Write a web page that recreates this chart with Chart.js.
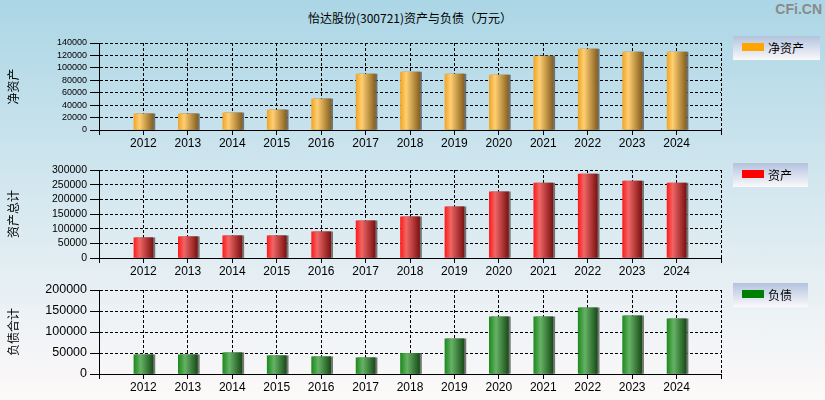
<!DOCTYPE html>
<html>
<head>
<meta charset="utf-8">
<script src="https://cdn.jsdelivr.net/npm/chart.js@4/dist/chart.umd.min.js"></script>
<style>
  html, body { margin: 0; padding: 0; }
  body {
    width: 825px; height: 400px; position: relative; overflow: hidden;
    background: linear-gradient(to bottom, #abd6e5 0%, #d6e8f0 50%, #fdf9f9 100%);
  }
  canvas { position: absolute; left: 0; top: 0; }
  .title {
    position: absolute; left: 0; top: 9px; width: 820px; text-align: center;
    font: 12px "Noto Sans CJK SC", sans-serif; color: #000;
  }
  .brand {
    position: absolute; right: 3px; top: 1px;
    font: bold 14px "Liberation Sans", Arial, sans-serif; color: #8a8a8a;
  }
  .legend {
    position: absolute; left: 733px; height: 24px;
    background: linear-gradient(to bottom, #b3c3de, #fbf9fb);
    font: 12px "Noto Sans CJK SC", sans-serif; color: #000;
  }
  .legend i { position: absolute; left: 9px; top: 7px; width: 22px; height: 8px; }
  .legend span { position: absolute; left: 35px; top: 3px; line-height: 17px; }
</style>
</head>
<body>
<div class="title">怡达股份(300721)资产与负债（万元）</div>
<div class="brand">CFi.CN</div>
<canvas id="c1" width="825" height="400"></canvas>
<canvas id="c2" width="825" height="400"></canvas>
<canvas id="c3" width="825" height="400"></canvas>
<div class="legend" style="top:36px;width:87px"><i style="background:#ffa500"></i><span>净资产</span></div>
<div class="legend" style="top:163px;width:75px"><i style="background:#ff0000"></i><span>资产</span></div>
<div class="legend" style="top:283px;width:75px"><i style="background:#008000"></i><span>负债</span></div>
<script>
const years = [2012, 2013, 2014, 2015, 2016, 2017, 2018, 2019, 2020, 2021, 2022, 2023, 2024]
const netAssets = [26000, 26000, 27500, 32200, 50000, 90100, 93300, 90100, 88500, 119100, 130300, 125500, 125500]
const totalAssets = [69000, 72500, 75800, 75800, 89400, 126800, 140400, 174300, 225300, 255800, 286400, 262600, 255800]
const totalDebt = [45800, 45800, 50600, 43500, 41100, 38700, 49000, 83800, 136000, 136000, 157300, 138300, 131200]

const orangeStops = [[0, '#f0a628'], [0.3, '#ffcf72'], [1, '#8a6220']]
const redStops = [[0, '#ff1c1c'], [0.3, '#f06666'], [1, '#7e1212']]
const greenStops = [[0, '#1e8a1e'], [0.35, '#66b266'], [1, '#184e18']]

function barGradient(stops) {
    return (c) => {
        const chart = c.chart
        const xs = chart.scales && chart.scales.x
        if (!xs || !c.raw) return stops[0][1]
        const px = xs.getPixelForValue(c.raw.x)
        if (!isFinite(px)) return stops[0][1]
        const g = chart.ctx.createLinearGradient(px - 9.5, 0, px + 9.5, 0)
        stops.forEach(s => g.addColorStop(s[0], s[1]))
        return g
    }
}

const shadow = {
    id: 'shadow',
    beforeDatasetsDraw(chart) {
        chart.ctx.save()
        chart.ctx.shadowColor = 'rgba(95,95,95,0.85)'
        chart.ctx.shadowOffsetX = 2
        chart.ctx.shadowOffsetY = 0
        chart.ctx.shadowBlur = 0
    },
    afterDatasetsDraw(chart) {
        chart.ctx.restore()
    }
}

function makePanel(id, values, stops, p) {
    const data = years.map((y, i) => ({ x: y, y: values[i] }))
    const chart = new Chart(document.getElementById(id), {
        type: 'bar',
        data: {
            datasets: [{
                data: data,
                backgroundColor: barGradient(stops),
                borderWidth: 0,
                barThickness: 19,
            }]
        },
        plugins: [shadow],
        options: {
            responsive: false,
            animation: false,
            events: [],
            layout: { padding: { left: 0, right: 104, top: p.top, bottom: 400 - p.bottom - 20 } },
            plugins: { legend: { display: false }, tooltip: { enabled: false } },
            scales: {
                x: {
                    type: 'linear',
                    min: 2011,
                    max: 2025,
                    offset: false,
                    afterFit: (s) => { s.height = 20 },
                    ticks: {
                        stepSize: 1,
                        autoSkip: false,
                        maxRotation: 0,
                        padding: 1,
                        color: '#000',
                        font: { family: '"Liberation Sans", Arial', size: 12 },
                        callback: (v) => (v === 2011 || v === 2025) ? '' : String(v),
                    },
                    grid: { offset: false, color: '#000', lineWidth: 1, tickLength: 5, tickBorderDash: [] },
                    border: { color: '#000', width: 1, dash: [3, 2] },
                },
                y: {
                    min: 0,
                    max: p.max,
                    afterFit: (s) => { s.width = 99 },
                    ticks: {
                        stepSize: p.step,
                        autoSkip: false,
                        padding: 3,
                        color: '#000',
                        font: { family: '"Liberation Sans", Arial', size: p.font },
                        callback: (v) => String(v),
                    },
                    grid: { color: '#000', lineWidth: 1, tickLength: 9, tickBorderDash: [] },
                    border: { color: '#000', width: 1, dash: [3, 2] },
                    title: {
                        display: true,
                        text: p.title,
                        color: '#000',
                        padding: { top: 6, bottom: 0 },
                        font: { family: '"Noto Sans CJK SC"', size: 12 },
                    },
                },
            },
        },
    })
    // redraw once the scales are laid out so every bar gets its gradient
    chart.update('none')
    return chart
}

makePanel('c1', netAssets, orangeStops, { top: 43, bottom: 130, max: 140000, step: 20000, font: 9, title: '净资产' })
makePanel('c2', totalAssets, redStops, { top: 170, bottom: 258, max: 300000, step: 50000, font: 10.5, title: '资产总计' })
makePanel('c3', totalDebt, greenStops, { top: 290, bottom: 374, max: 200000, step: 50000, font: 12.5, title: '负债合计' })
</script>
</body>
</html>
